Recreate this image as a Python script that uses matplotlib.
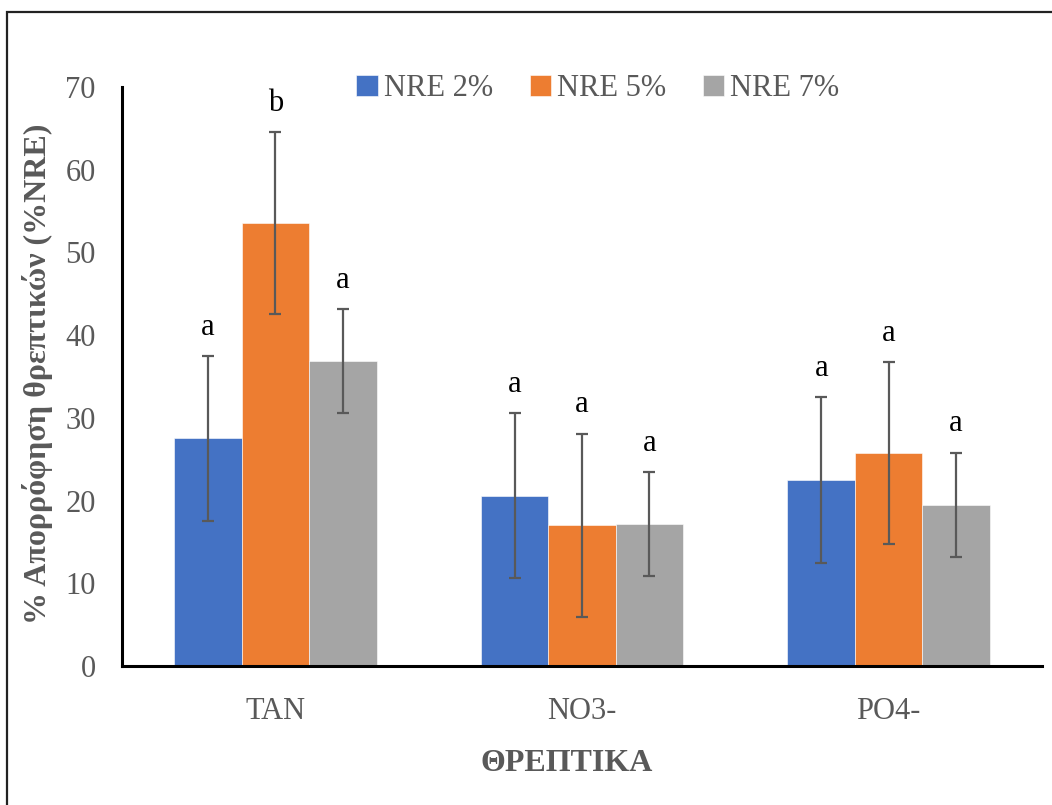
import numpy as np
import matplotlib
matplotlib.use("Agg")
import matplotlib.pyplot as plt
from matplotlib.patches import Rectangle

plt.rcParams['font.family'] = ['Liberation Serif', 'DejaVu Serif']

nutrients = ['TAN', 'NO3-', 'PO4-']
series = ['NRE 2%', 'NRE 5%', 'NRE 7%']
nre_2 = [27.5, 20.6, 22.5]
nre_5 = [53.6, 17.0, 25.8]
nre_7 = [36.9, 17.2, 19.5]
err_2 = [10.0, 10.0, 10.0]
err_5 = [11.0, 11.1, 11.0]
err_7 = [6.3, 6.3, 6.3]
letters_2 = ['a', 'a', 'a']
letters_5 = ['b', 'a', 'a']
letters_7 = ['a', 'a', 'a']

colors = ['#4472C4', '#ED7D31', '#A5A5A5']
text_grey = '#595959'

fig = plt.figure(figsize=(10.52, 8.05), dpi=100)
ax = fig.add_axes([0.116, 0.1727, 0.8745, 0.7193])

x = np.arange(len(nutrients))
width = 0.22
groups = [(nre_2, err_2, letters_2), (nre_5, err_5, letters_5),
          (nre_7, err_7, letters_7)]
for i, (vals, errs, lets) in enumerate(groups):
    pos = x + (i - 1) * width
    ax.bar(pos, vals, width, color=colors[i], label=series[i],
           edgecolor='white', linewidth=0.4, zorder=2)
    ax.errorbar(pos, vals, yerr=errs, fmt='none', ecolor=text_grey,
                elinewidth=1.6, capsize=4.5, capthick=1.6, zorder=3)
    # significance letters above each error bar
    for p, v, e, t in zip(pos, vals, errs, lets):
        ax.text(p, v + e + 1.7, t, ha='center', va='bottom',
                fontsize=22, color='black')

ax.set_xlim(-0.5, 2.5)
ax.set_ylim(0, 70)
ax.set_yticks(range(0, 71, 10))
ax.set_xticks(x)
ax.set_xticklabels(nutrients)
ax.tick_params(axis='both', length=0, labelsize=22, labelcolor=text_grey)
ax.tick_params(axis='y', pad=19)
ax.tick_params(axis='x', pad=22)
for side in ('top', 'right'):
    ax.spines[side].set_visible(False)
for side in ('left', 'bottom'):
    ax.spines[side].set_linewidth(2.2)
    ax.spines[side].set_color('black')

fig.text(38 / 1052, 1 - 374 / 805, '% Απορρόφηση θρεπτικών (%NRE)',
         rotation=90, ha='center', va='center', fontsize=23,
         fontweight='bold', color=text_grey)
fig.text(567 / 1052, 1 - 763 / 805, 'ΘΡΕΠΤΙΚΑ', ha='center', va='center',
         fontsize=23, fontweight='bold', color=text_grey)

fig.legend(loc='center', bbox_to_anchor=(598 / 1052, 1 - 89 / 805), ncol=3,
           frameon=False, fontsize=22, handlelength=0.7, handleheight=0.7,
           handletextpad=0.2, columnspacing=1.2, labelcolor=text_grey)

# outer chart frame
fig.add_artist(Rectangle((7 / 1052, -0.1), 1.2, 1.1 - 12 / 805,
                         transform=fig.transFigure, fill=False,
                         edgecolor='#222222', linewidth=1.6))

fig.savefig('out.png', dpi=100)
